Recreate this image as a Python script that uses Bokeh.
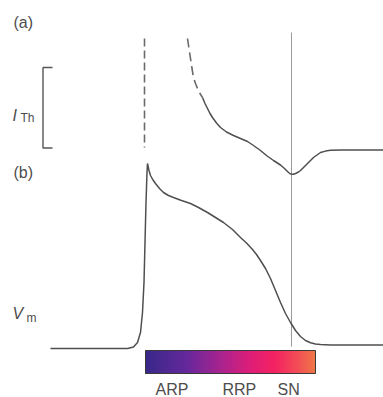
from bokeh.plotting import figure
from bokeh.models import Range1d
from bokeh.core.properties import value
from bokeh.embed import file_html
from bokeh.resources import INLINE

# ---- data (schematic units: time along x, level along y) ----
# (b) membrane potential trace
vm_t = [50, 127, 133, 137, 140, 142, 143.5, 144.5, 145.5, 146.5, 147, 148.5, 150, 152.5, 155, 159, 163, 168, 173,
        181, 190, 198, 207, 215, 223, 232, 240, 246, 252, 256, 260, 265, 270, 275, 280, 285, 290, 295,
        300, 305, 310, 315, 320, 330, 340, 383]
vm_y = [348, 348, 346.5, 342, 332, 312, 282, 242, 202, 172, 163, 170, 175, 179.5, 183, 188, 192, 195, 197,
        200, 203, 207, 212, 217, 222, 229, 237, 242.5, 249, 254, 260, 268, 278, 290, 302, 313, 322, 330,
        336, 340, 342.3, 343.5, 344, 344.5, 344.5, 344.5]

# (a) threshold current: dashed (not reachable) part, then solid part
ith_dash_t = [187, 188.5, 190, 191.5, 193, 195, 197, 199.5, 202]
ith_dash_y = [38, 48, 58, 68, 77, 83, 88, 93, 97]
ith_t = [202, 204.5, 207, 209.5, 212, 216, 220, 226, 233, 240, 247, 253, 260, 266, 273, 280, 284, 287, 289,
         291, 293, 295, 297.5, 300, 303, 305.5, 308, 313, 316.5, 320, 325, 330, 340, 383]
ith_y = [97, 103, 108, 113, 117, 122.5, 127, 131.5, 135, 138, 141, 145, 150, 155, 160, 164.5, 168, 171, 172.8,
         173.8, 173.8, 173, 171.8, 170, 167, 164.5, 162, 157, 154.5, 152, 150.6, 149.8, 149.5, 149.5]

# markers
stim_t = [144, 144]          # end of absolute refractory period (I_Th -> infinity)
stim_y = [38, 147]
sn_t = [291, 291]            # supernormal point
sn_y = [32, 346]

# refractory bar
bar_start, bar_end = 145, 315
bar_bottom, bar_top = 373, 350
bar_stop_pos = [0.0, 0.24, 0.45, 0.62, 0.76, 0.9, 1.0]
bar_stop_rgb = [(56, 40, 136), (100, 40, 156), (170, 36, 142), (222, 30, 120),
                (244, 34, 98), (243, 78, 86), (238, 120, 70)]

# text labels
panel_labels = ["(a)", "(b)"]
panel_x = [13, 13]
panel_y = [22, 171.5]
main_sym = ["I", "V"]
main_sym_x = [12, 12]
main_sym_y = [115, 313]
sub_sym = ["Th", "m"]
sub_x = [20, 26]
sub_y = [117.5, 317]
period_labels = ["ARP", "RRP", "SN"]
period_x = [155, 222, 277]
period_y = [389, 389, 389]

# bracket for I_Th scale
bracket_x = [52, 42.5, 42.5, 52]
bracket_y = [67, 67, 147.5, 147.5]

# ---- figure ----
p = figure(width=383, height=397, output_backend="svg", toolbar_location=None,
           x_range=Range1d(0, 383), y_range=Range1d(397, 0), min_border=0)
p.axis.visible = False
p.grid.visible = False
p.outline_line_color = None
p.background_fill_color = "white"

curve_col = "#4f4f4f"
text_col = "#4d4d4d"
font = value("Liberation Sans")

# gradient bar built from the colour stops
def lerp_color(f):
    for i in range(len(bar_stop_pos) - 1):
        a, b = bar_stop_pos[i], bar_stop_pos[i + 1]
        if a <= f <= b:
            u = (f - a) / (b - a)
            c0, c1 = bar_stop_rgb[i], bar_stop_rgb[i + 1]
            return "#%02x%02x%02x" % tuple(int(round(c0[k] + u * (c1[k] - c0[k]))) for k in range(3))
    return "#%02x%02x%02x" % bar_stop_rgb[-1]

n = bar_end - bar_start
lefts = [bar_start + i for i in range(n)]
rights = [min(bar_start + i + 2, bar_end) for i in range(n)]
cols = [lerp_color((i + 0.5) / n) for i in range(n)]
p.quad(left=lefts, right=rights, top=[bar_top] * n, bottom=[bar_bottom] * n,
       fill_color=cols, line_color=cols, line_width=0.6)
p.quad(left=[bar_start], right=[bar_end], top=[bar_top], bottom=[bar_bottom],
       fill_color=None, line_color="#3a3a3a", line_width=1)

# marker lines
p.line(sn_t, sn_y, line_color="#9a9a9a", line_width=1)
p.line(stim_t, stim_y, line_color="#6a6a6a", line_width=1.6, line_dash="8 4")

# curves
p.line(vm_t, vm_y, line_color=curve_col, line_width=1.5)
p.line(ith_dash_t, ith_dash_y, line_color="#6a6a6a", line_width=1.6, line_dash="9 5")
p.line(ith_t, ith_y, line_color=curve_col, line_width=1.5)
p.line(bracket_x, bracket_y, line_color="#555555", line_width=1.4)

# texts
p.text(x=panel_x, y=panel_y, text=panel_labels, text_font=font, text_font_size="16px",
       text_color=text_col, text_baseline="alphabetic")
p.text(x=main_sym_x, y=main_sym_y, text=main_sym, text_font=font, text_font_size="16px",
       text_font_style="italic", text_color=text_col, text_baseline="alphabetic")
p.text(x=sub_x, y=sub_y, text=sub_sym, text_font=font, text_font_size="12px",
       text_color=text_col, text_baseline="alphabetic")
p.text(x=period_x, y=period_y, text=period_labels, text_font=font, text_font_size="16px",
       text_color=text_col, text_baseline="alphabetic")

open("out.html", "w").write(file_html(p, INLINE))
